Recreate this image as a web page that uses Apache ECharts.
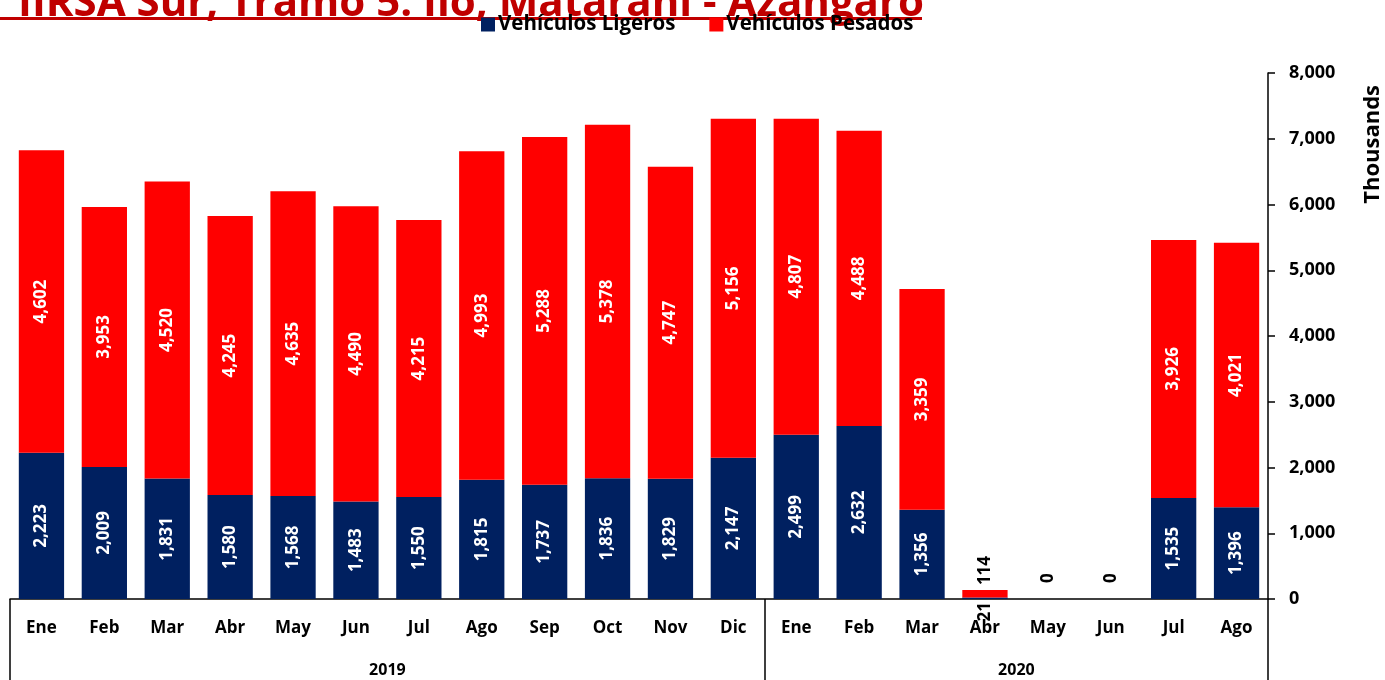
<!DOCTYPE html>
<html>
<head>
<meta charset="utf-8">
<script src="https://cdn.jsdelivr.net/npm/echarts@6/dist/echarts.min.js"></script>
<style>
  html, body { margin: 0; padding: 0; background: #fff; }
  #chart { width: 1385px; height: 680px; }
</style>
</head>
<body>
<div id="chart"></div>
<script>
// Monthly traffic, IIRSA Sur Tramo 5 (thousands of vehicles)
const months = ['Ene','Feb','Mar','Abr','May','Jun','Jul','Ago','Sep','Oct','Nov','Dic',
                'Ene','Feb','Mar','Abr','May','Jun','Jul','Ago'];
const years = ['2019', '2020'];
const ligeros = [2223, 2009, 1831, 1580, 1568, 1483, 1550, 1815, 1737, 1836, 1829, 2147,
                 2499, 2632, 1356, 21, 0, 0, 1535, 1396];
const pesados = [4602, 3953, 4520, 4245, 4635, 4490, 4215, 4993, 5288, 5378, 4747, 5156,
                 4807, 4488, 3359, 114, 0, 0, 3926, 4021];
const yTicks = [0, 1000, 2000, 3000, 4000, 5000, 6000, 7000, 8000];

const FONT = '"Open Sans", "Noto Sans", sans-serif';
const NAVY = '#002060';
const RED = '#FF0000';
const fmt = v => v.toLocaleString('en-US');

const insideLabel = {
  show: true, position: 'inside', rotate: 90, color: '#fff',
  fontFamily: FONT, fontWeight: 'bold', fontSize: 17,
  formatter: p => fmt(p.value)
};

// small values: labels sit outside the bar in black, reading upward
const ligData = ligeros.map(v => {
  if (v === 0) return { value: v, label: { show: false } };
  if (v < 300) return { value: v, label: { position: 'bottom', color: '#000', distance: 3,
                                           align: 'right', verticalAlign: 'middle' } };
  return v;
});
const pesData = pesados.map(v => {
  if (v === 0) return { value: v, label: { position: 'top', color: '#000', distance: 16,
                                           align: 'left', verticalAlign: 'middle' } };
  if (v < 300) return { value: v, label: { position: 'top', color: '#000', distance: 5,
                                           align: 'left', verticalAlign: 'middle' } };
  return v;
});

const chart = echarts.init(document.getElementById('chart'), null, { renderer: 'canvas' });

chart.setOption({
  animation: false,
  backgroundColor: '#fff',
  grid: { left: 10, right: 117, top: 73, bottom: 81, containLabel: false },
  legend: {
    left: 476, top: 9,
    icon: 'rect', itemWidth: 14, itemHeight: 14, itemGap: 34,
    textStyle: { fontFamily: FONT, fontSize: 20.5, fontWeight: 'bold', color: '#000',
                 padding: [0, 0, 0, -2] },
    data: ['Vehículos Ligeros', 'Vehículos Pesados']
  },
  xAxis: [
    {
      type: 'category', data: months, position: 'bottom',
      axisLine: { show: true, lineStyle: { color: '#000', width: 1.5 } },
      axisTick: { show: false },
      axisLabel: { margin: 21, color: '#000', fontFamily: FONT, fontWeight: 'bold', fontSize: 17, interval: 0 }
    },
    {
      // year band below the months
      type: 'value', min: 0, max: months.length, position: 'bottom',
      axisLine: { show: false },
      splitLine: { show: false },
      axisTick: { show: true, customValues: [0, 12, 20], length: 85, inside: false,
                  lineStyle: { color: '#000', width: 1.5 } },
      axisLabel: { customValues: [6, 16], margin: 63, color: '#000', fontFamily: FONT,
                   fontWeight: 'bold', fontSize: 16,
                   formatter: v => v === 6 ? years[0] : (v === 16 ? years[1] : '') }
    }
  ],
  yAxis: {
    type: 'value', position: 'right', min: 0, max: 8000, interval: 1000,
    axisLine: { show: true, onZero: false, lineStyle: { color: '#000', width: 1.5 } },
    axisTick: { show: true, length: 7, lineStyle: { color: '#000', width: 1.5 } },
    splitLine: { show: false },
    axisLabel: { margin: 21, color: '#000', fontFamily: FONT, fontWeight: 'bold', fontSize: 18,
                 formatter: v => fmt(v) }
  },
  series: [
    {
      name: 'Vehículos Ligeros', type: 'bar', stack: 'total', barWidth: '72%',
      itemStyle: { color: NAVY }, label: insideLabel, data: ligData
    },
    {
      name: 'Vehículos Pesados', type: 'bar', stack: 'total', barWidth: '72%',
      itemStyle: { color: RED }, label: insideLabel, data: pesData
    }
  ],
  graphic: [
    {
      type: 'text', left: 18, top: -17, z: 1,
      style: { text: 'IIRSA Sur, Tramo 5: Ilo, Matarani - Azángaro',
               font: 'bold 42px ' + FONT, fill: '#C00000' }
    },
    {
      type: 'rect', left: 0, top: 17, z: 2,
      shape: { width: 922, height: 3 }, style: { fill: '#C00000' }
    },
    {
      type: 'text', left: 1362, top: 85, rotation: Math.PI / 2, z: 3,
      style: { text: 'Thousands', font: 'bold 22px ' + FONT, fill: '#000' }
    }
  ]
});
</script>
</body>
</html>
